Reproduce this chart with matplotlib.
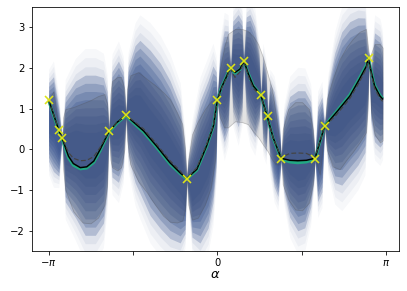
import numpy as np
import matplotlib
matplotlib.use("Agg")
import matplotlib.pyplot as plt

# observations (yellow crosses)
obs_x = [-3.13, -2.95, -2.89, -2.01, -1.70, -0.56, 0.0, 0.25, 0.50, 0.81, 0.94, 1.18, 1.82, 2.00, 2.83]
obs_y = [1.22, 0.47, 0.28, 0.44, 0.85, -0.74, 1.22, 2.00, 2.17, 1.33, 0.81, -0.23, -0.23, 0.57, 2.25]

# posterior mean (black)
mean_x = [-3.14, -2.95, -2.89, -2.86, -2.77, -2.68, -2.55, -2.43, -2.30, -2.18, -2.02, -1.87, -1.70,
          -1.62, -1.37, -1.13, -0.88, -0.69, -0.57, -0.38, -0.20, -0.07, 0.0, 0.08, 0.18, 0.24,
          0.33, 0.42, 0.50, 0.58, 0.67, 0.81, 0.93, 1.04, 1.19, 1.35, 1.50, 1.66, 1.82, 2.00,
          2.22, 2.47, 2.65, 2.78, 2.81, 2.87, 2.93, 3.03, 3.08]
mean_y = [1.22, 0.47, 0.28, 0.17, -0.17, -0.35, -0.45, -0.43, -0.29, 0.0, 0.43, 0.66, 0.84,
          0.74, 0.45, 0.08, -0.33, -0.58, -0.72, -0.49, 0.08, 0.58, 1.20, 1.52, 1.81, 2.0,
          1.89, 1.97, 2.16, 1.85, 1.56, 1.34, 0.81, 0.29, -0.22, -0.27, -0.28, -0.27, -0.22, 0.57,
          0.91, 1.31, 1.73, 2.05, 2.25, 1.89, 1.56, 1.31, 1.24]

# true function (teal)
true_y = [1.20, 0.45, 0.26, 0.14, -0.21, -0.39, -0.48, -0.46, -0.32, -0.03, 0.41, 0.64, 0.83,
          0.72, 0.42, 0.05, -0.36, -0.60, -0.73, -0.51, 0.06, 0.57, 1.20, 1.53, 1.82, 2.0,
          1.87, 1.96, 2.16, 1.86, 1.57, 1.34, 0.80, 0.28, -0.24, -0.31, -0.33, -0.31, -0.24, 0.58,
          0.93, 1.34, 1.76, 2.08, 2.25, 1.91, 1.58, 1.33, 1.25]

# alternative mean (dashed)
dash_y = [1.22, 0.47, 0.30, 0.20, -0.08, -0.22, -0.28, -0.27, -0.18, 0.05, 0.44, 0.66, 0.84,
          0.76, 0.50, 0.13, -0.28, -0.53, -0.72, -0.45, 0.12, 0.60, 1.20, 1.50, 1.78, 1.98,
          1.77, 1.90, 2.15, 1.80, 1.50, 1.32, 0.80, 0.29, -0.20, -0.10, -0.09, -0.10, -0.20, 0.56,
          0.85, 1.25, 1.66, 2.00, 2.22, 1.85, 1.50, 1.25, 1.18]

# grey confidence band
band_x = [-3.14, -3.05, -2.95, -2.89, -2.87, -2.83, -2.68, -2.51, -2.36, -2.22, -2.10, -2.05, -2.02,
          -1.99, -1.96, -1.86, -1.79, -1.73, -1.70, -1.68, -1.62, -1.47, -1.31, -1.16, -1.01, -0.88,
          -0.75, -0.65, -0.60, -0.57, -0.54, -0.47, -0.36, -0.23, -0.12, -0.04, 0.0, 0.05, 0.13,
          0.20, 0.33, 0.46, 0.57, 0.68, 0.76, 0.85, 0.94, 1.02, 1.09, 1.15, 1.19, 1.22, 1.32, 1.45,
          1.58, 1.71, 1.78, 1.82, 1.91, 2.00, 2.04, 2.15, 2.28, 2.41, 2.52, 2.65, 2.77, 2.80, 2.83,
          2.86, 2.93, 3.03, 3.08]
band_hi = [1.21, 1.43, 0.47, 0.28, 0.79, 0.99, 1.04, 1.13, 1.21, 1.31, 1.36, 1.11, 0.44,
           1.36, 1.68, 1.78, 1.78, 1.48, 0.84, 1.48, 1.82, 1.90, 1.73, 1.58, 1.41, 1.23,
           0.91, 0.62, 0.0, -0.72, -0.25, 0.37, 0.69, 0.99, 1.18, 1.23, 1.21, 1.97, 2.52,
           2.84, 2.96, 2.96, 2.91, 2.76, 2.59, 2.27, 1.85, 1.48, 0.86, 0.25, -0.22, 0.49, 0.99, 1.16,
           1.16, 0.99, 0.49, -0.22, 0.74, 0.57, 1.23, 1.73, 2.22, 2.52, 2.71, 2.89, 2.96, 2.59, 2.27,
           2.34, 2.59, 2.59, 2.50]
band_lo = [1.21, 0.69, 0.47, 0.28, -0.49, -0.99, -1.53, -1.80, -1.82, -1.68, -1.36, -0.86, 0.44,
           -0.25, -0.44, -0.52, -0.44, 0.0, 0.84, 0.25, -0.37, -0.79, -1.06, -1.36, -1.63, -1.78,
           -1.80, -1.75, -1.48, -0.72, -1.36, -1.73, -1.68, -1.36, -0.94, -0.25, 1.21, 0.79, 0.54,
           0.54, 0.69, 0.67, 0.62, 0.42, 0.30, 0.12, -0.05, -0.25, -0.37, -0.37, -0.22, -0.86, -1.23, -1.48,
           -1.50, -1.31, -0.86, -0.22, -0.62, 0.57, 0.0, -0.42, -0.49, -0.25, -0.07, 0.17, 0.42, 0.99, 2.27,
           0.99, 0.37, 0.17, 0.22]

# envelope of the posterior samples (blue)
samp_x = [-3.14, -3.05, -2.95, -2.89, -2.83, -2.64, -2.46, -2.27, -2.12, -2.05, -2.02, -1.96, -1.84,
          -1.75, -1.70, -1.66, -1.53, -1.44, -1.25, -1.06, -0.88, -0.69, -0.60, -0.57, -0.54, -0.47,
          -0.32, -0.17, -0.08, -0.02, 0.0, 0.05, 0.13, 0.20, 0.25, 0.29, 0.39, 0.46, 0.49, 0.54,
          0.61, 0.70, 0.78, 0.81, 0.85, 0.91, 0.94, 0.98, 1.06, 1.13, 1.17, 1.19, 1.24, 1.35, 1.50,
          1.63, 1.74, 1.80, 1.82, 1.87, 1.95, 2.00, 2.06, 2.19, 2.32, 2.47, 2.62, 2.75, 2.80, 2.83,
          2.86, 2.93, 3.03, 3.08]
samp_hi = [1.60, 1.73, 0.99, 0.30, 1.23, 1.60, 1.73, 1.73, 1.68, 1.36, 0.49, 1.85, 2.10,
           1.85, 0.89, 1.97, 2.47, 2.59, 2.34, 2.02, 1.60, 0.99, 0.0, -0.67, -0.25, 0.25,
           1.11, 1.60, 1.97, 1.85, 1.26, 2.35, 2.85, 2.85, 2.05, 3.10, 3.25, 3.10, 2.22, 3.20,
           3.25, 2.95, 2.30, 1.38, 2.22, 1.85, 0.86, 1.60, 1.36, 0.86, 0.37, -0.17, 0.74, 1.23, 1.36,
           1.36, 1.11, 0.25, -0.17, 0.99, 1.23, 0.62, 1.48, 2.30, 2.80, 3.05, 3.15, 3.15, 2.47, 2.32,
           1.97, 2.80, 2.70, 2.45]
samp_lo = [-0.25, -0.49, -0.62, 0.25, -1.23, -1.60, -2.02, -2.02, -1.73, -0.99, 0.40, -0.62, -0.74,
           -0.37, 0.79, -0.12, -0.74, -0.99, -1.53, -1.85, -2.10, -2.22, -2.02, -0.76, -1.23, -2.10,
           -2.22, -1.85, -1.23, -0.37, 1.16, 0.62, 0.25, 0.54, 1.95, 0.99, 0.62, 0.99, 2.12, 0.99,
           0.62, 0.37, 0.74, 1.28, 0.25, 0.0, 0.76, -0.25, -0.86, -1.11, -0.62, -0.27, -0.99, -1.60, -1.92,
           -1.85, -1.36, -0.74, -0.27, -1.23, -0.99, 0.52, -0.25, -0.74, -0.79, -0.54, -0.30, 0.0, 0.99, 2.20,
           0.74, 0.25, 0.12, 0.20]

BLUE = "#34508c"
TEAL = "#22a884"
YELLOW = "#dde318"

fig = plt.figure(figsize=(407 / 72, 291 / 72), dpi=72)
ax = fig.add_axes([32 / 407, 1 - 251 / 291, 367 / 407, 244 / 291])

sx = np.array(samp_x)
shi = np.array(samp_hi)
slo = np.array(samp_lo)
center = (shi + slo) / 2
half = (shi - slo) / 2
layers = [(1.40, 0.04), (1.28, 0.05), (1.16, 0.08)] + [(t, 0.26) for t in np.linspace(1.05, 0.3, 8)]
for t, a in layers:
    ax.fill_between(sx, center - t * half, center + t * half, color=BLUE, alpha=a, lw=0, zorder=1)

ax.fill_between(band_x, band_lo, band_hi, facecolor=(0.35, 0.35, 0.35, 0.17),
                edgecolor=(0.3, 0.3, 0.3, 0.3), lw=0.8, zorder=2)

ax.plot(mean_x, true_y, color=TEAL, lw=3, zorder=3, solid_capstyle="butt")
ax.plot(mean_x, mean_y, color="black", lw=1.5, zorder=4)
ax.plot(mean_x, dash_y, color="#444444", lw=1.2, ls=(0, (4, 2)), zorder=5)
ax.plot(obs_x, obs_y, ls="none", marker="x", ms=8.5, mew=1.6, color=YELLOW, zorder=6)

ax.set_xlim(-3.45, 3.385)
ax.set_ylim(-2.5, 3.5)
ax.set_xticks([-np.pi, -np.pi / 2, 0, np.pi / 2, np.pi])
ax.set_xticklabels([r"$-\pi$", "", "0", "", r"$\pi$"])
ax.set_yticks([-2, -1, 0, 1, 2, 3])
ax.tick_params(labelsize=10)
ax.set_xlabel(r"$\alpha$", fontsize=13, labelpad=0)

fig.savefig("out.png", dpi=72)
